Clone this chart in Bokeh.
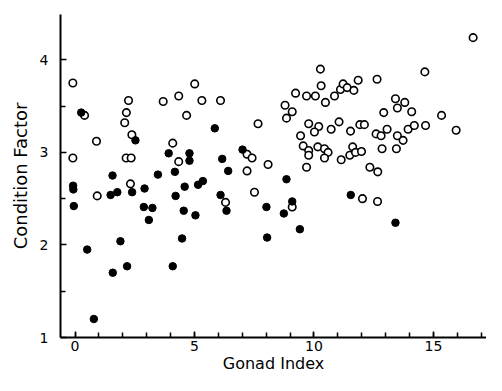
from bokeh.plotting import figure
from bokeh.models import Range1d, FixedTicker
from bokeh.embed import file_html
from bokeh.resources import INLINE

# Open circles
open_x = [-0.09, 0.40, 2.24, 2.15, 2.08, 2.38, 0.90, -0.09, 2.14, 2.35, 4.09, 2.32, 0.93,
          3.69, 4.34, 5.01, 5.31, 6.09, 4.67, 4.34, 7.66, 7.20, 7.41, 8.08, 7.20, 7.51, 6.30,
          9.09, 12.03, 12.66, 10.27, 10.30, 9.23, 9.69, 10.06, 10.48, 10.86, 11.11, 11.22,
          11.39, 11.67, 11.85, 12.64, 8.79, 9.09, 8.85, 12.92, 9.78, 10.20, 10.02, 10.72,
          11.05, 11.53, 11.92, 12.11, 12.60, 12.81, 13.06, 9.44, 9.55, 9.78, 9.78, 10.16,
          10.44, 10.59, 10.44, 11.14, 11.50, 11.62, 11.74, 11.99, 12.85, 9.69, 12.34, 12.67,
          14.64, 16.66, 13.41, 13.80, 13.49, 14.09, 15.34, 13.49, 13.73, 13.94, 14.20, 14.67,
          15.95, 13.45]
open_y = [3.75, 3.40, 3.56, 3.43, 3.32, 3.19, 3.12, 2.94, 2.94, 2.94, 3.10, 2.66, 2.53,
          3.55, 3.61, 3.74, 3.56, 3.56, 3.40, 2.90, 3.31, 2.98, 2.94, 2.87, 2.80, 2.57, 2.46,
          2.41, 2.50, 2.47, 3.90, 3.72, 3.64, 3.61, 3.61, 3.54, 3.61, 3.68, 3.74,
          3.70, 3.67, 3.78, 3.79, 3.51, 3.44, 3.37, 3.43, 3.31, 3.28, 3.22, 3.25,
          3.33, 3.23, 3.30, 3.30, 3.20, 3.18, 3.25, 3.18, 3.07, 3.02, 2.97, 3.06,
          3.04, 3.00, 2.94, 2.92, 2.97, 3.06, 3.00, 3.01, 3.04, 2.84, 2.84, 2.79,
          3.87, 4.24, 3.58, 3.54, 3.48, 3.44, 3.40, 3.18, 3.13, 3.25, 3.29, 3.29,
          3.24, 3.04]

# Filled circles
filled_x = [0.26, 2.53, 3.92, 1.57, 3.47, -0.08, -0.07, -0.05, 2.91, 1.49, 1.77, 2.39,
            4.79, 4.79, 5.85, 6.16, 7.01, 6.41, 4.18, 4.59, 5.15, 5.35, 6.09, 4.21,
            2.88, 3.24, 3.09, 0.51, 1.90, 2.18, 1.58, 0.79, 4.09, 4.55, 5.04, 6.34,
            8.01, 4.48, 8.04, 8.74, 9.09, 9.41, 11.54, 13.41, 8.85]
filled_y = [3.43, 3.13, 2.99, 2.75, 2.76, 2.64, 2.60, 2.42, 2.61, 2.54, 2.57, 2.57,
            2.99, 2.91, 3.26, 2.93, 3.03, 2.80, 2.79, 2.63, 2.65, 2.69, 2.54, 2.53,
            2.41, 2.40, 2.27, 1.95, 2.04, 1.77, 1.70, 1.20, 1.77, 2.37, 2.32, 2.37,
            2.41, 2.07, 2.08, 2.34, 2.47, 2.17, 2.54, 2.24, 2.71]

x_ticks = [0, 5, 10, 15]
x_minor = list(range(0, 18))
y_ticks = [1, 2, 3, 4]
y_minor = [1.5, 2.5, 3.5, 4.5]

p = figure(width=486, height=375, output_backend="svg", toolbar_location=None,
           x_range=Range1d(-0.607, 17.22), y_range=Range1d(1.0, 4.49),
           min_border_left=60, min_border_right=0, min_border_top=14, min_border_bottom=36)
p.outline_line_color = None
p.xgrid.visible = False
p.ygrid.visible = False
p.background_fill_color = "white"
p.border_fill_color = "white"

p.scatter(x=open_x, y=open_y, size=7.5, marker="circle", fill_color="white",
          line_color="black", line_width=1.6)
p.scatter(x=filled_x, y=filled_y, size=7.5, marker="circle", fill_color="black",
          line_color="black", line_width=1)

for ax in (p.xaxis[0], p.yaxis[0]):
    ax.axis_line_color = "black"
    ax.axis_line_width = 2
    ax.major_tick_in = 6
    ax.major_tick_out = 0
    ax.minor_tick_in = 5
    ax.minor_tick_out = 0
    ax.major_tick_line_width = 1.5
    ax.minor_tick_line_width = 1.5
    ax.major_label_text_font = "DejaVu Sans"
    ax.major_label_text_font_size = "14px"
    ax.major_label_text_color = "black"
    ax.axis_label_text_font = "DejaVu Sans"
    ax.axis_label_text_font_style = "normal"
    ax.axis_label_text_color = "black"

p.xaxis.axis_label_text_font_size = "16px"
p.yaxis.axis_label_text_font_size = "18px"
p.xaxis.ticker = FixedTicker(ticks=x_ticks, minor_ticks=x_minor)
p.yaxis.ticker = FixedTicker(ticks=y_ticks, minor_ticks=y_minor)
p.xaxis.axis_label = "Gonad Index"
p.yaxis.axis_label = "Condition Factor"
p.xaxis.major_label_standoff = 3
p.yaxis.major_label_standoff = 12
p.xaxis.axis_label_standoff = 0
p.yaxis.axis_label_standoff = 6

open("out.html", "w").write(file_html(p, INLINE))
